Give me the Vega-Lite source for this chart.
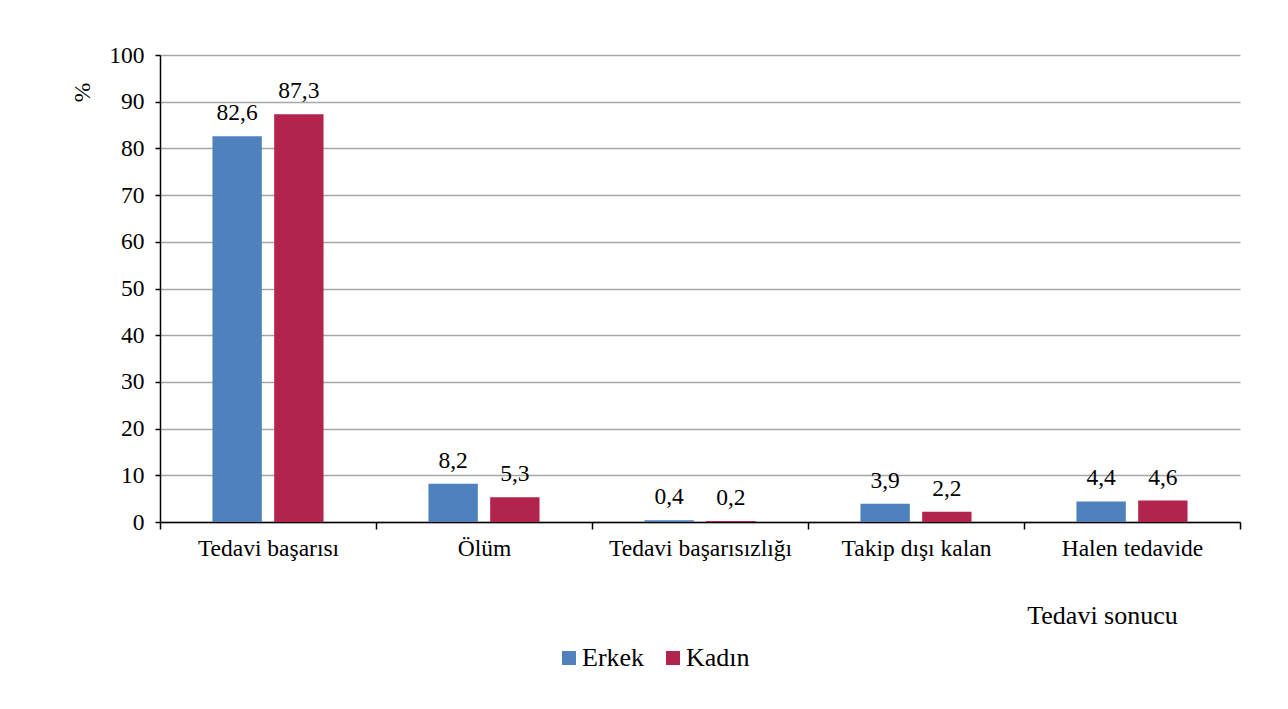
{
  "$schema": "https://vega.github.io/schema/vega-lite/v6.json",
  "width": 1080,
  "height": 467,
  "autosize": {"type": "none"},
  "padding": {"left": 160, "top": 55, "right": 48, "bottom": 187},
  "background": "white",
  "config": {
    "view": {"stroke": null},
    "font": "Times New Roman, Liberation Serif, serif",
    "axis": {"labelFont": "Times New Roman, Liberation Serif, serif", "titleFont": "Times New Roman, Liberation Serif, serif", "labelColor": "black", "titleColor": "black", "titleFontWeight": "normal"},
    "legend": {"labelFont": "Times New Roman, Liberation Serif, serif"},
    "text": {"font": "Times New Roman, Liberation Serif, serif"}
  },
  "data": {
    "values": [
      {"sonuc": "Tedavi başarısı", "cinsiyet": "Erkek", "deger": 82.6, "etiket": "82,6"},
      {"sonuc": "Tedavi başarısı", "cinsiyet": "Kadın", "deger": 87.3, "etiket": "87,3"},
      {"sonuc": "Ölüm", "cinsiyet": "Erkek", "deger": 8.2, "etiket": "8,2"},
      {"sonuc": "Ölüm", "cinsiyet": "Kadın", "deger": 5.3, "etiket": "5,3"},
      {"sonuc": "Tedavi başarısızlığı", "cinsiyet": "Erkek", "deger": 0.4, "etiket": "0,4"},
      {"sonuc": "Tedavi başarısızlığı", "cinsiyet": "Kadın", "deger": 0.2, "etiket": "0,2"},
      {"sonuc": "Takip dışı kalan", "cinsiyet": "Erkek", "deger": 3.9, "etiket": "3,9"},
      {"sonuc": "Takip dışı kalan", "cinsiyet": "Kadın", "deger": 2.2, "etiket": "2,2"},
      {"sonuc": "Halen tedavide", "cinsiyet": "Erkek", "deger": 4.4, "etiket": "4,4"},
      {"sonuc": "Halen tedavide", "cinsiyet": "Kadın", "deger": 4.6, "etiket": "4,6"}
    ]
  },
  "encoding": {
    "x": {
      "field": "sonuc", "type": "nominal", "sort": null,
      "scale": {"paddingInner": 0, "paddingOuter": 0},
      "axis": {
        "title": "Tedavi sonucu", "titleFontSize": 26, "titleX": 942, "titleY": 93,
        "titleAlign": "center", "titleBaseline": "middle",
        "labelAngle": 0, "labelFontSize": 23.5, "labelPadding": 7, "labelLimit": 0,
        "tickBand": "extent", "tickColor": "black", "tickSize": 7, "tickWidth": 1.5,
        "domainColor": "black", "domainWidth": 1.5, "grid": false
      }
    },
    "xOffset": {
      "field": "cinsiyet", "type": "nominal", "sort": ["Erkek", "Kadın"],
      "scale": {"paddingInner": 0.2, "paddingOuter": 0.85}
    },
    "y": {
      "field": "deger", "type": "quantitative",
      "scale": {"domain": [0, 100], "nice": false},
      "axis": {
        "title": "%", "titleFontSize": 23.5, "titleX": -78, "titleY": 37,
        "titleAlign": "center", "titleBaseline": "middle",
        "values": [0, 10, 20, 30, 40, 50, 60, 70, 80, 90, 100],
        "labelFontSize": 23.5, "labelPadding": 11,
        "tickColor": "black", "tickSize": 5, "tickWidth": 1.5,
        "domainColor": "black", "domainWidth": 1.5,
        "grid": true, "gridColor": "#A6A6A6", "gridWidth": 1.5
      }
    }
  },
  "layer": [
    {
      "mark": {"type": "bar"},
      "encoding": {
        "color": {
          "field": "cinsiyet", "type": "nominal",
          "scale": {"domain": ["Erkek", "Kadın"], "range": ["#4F81BD", "#B2234D"]},
          "legend": {
            "title": null, "orient": "none", "direction": "horizontal",
            "legendX": 396, "legendY": 590,
            "symbolType": "square", "symbolSize": 196, "symbolStrokeWidth": 0,
            "labelFontSize": 26, "labelColor": "black", "columnPadding": 15, "labelOffset": 0
          }
        }
      }
    },
    {
      "mark": {"type": "text", "fontSize": 23.5, "baseline": "alphabetic", "dy": -16, "color": "black", "font": "Times New Roman, Liberation Serif, serif"},
      "encoding": {"text": {"field": "etiket", "type": "nominal"}}
    }
  ]
}
